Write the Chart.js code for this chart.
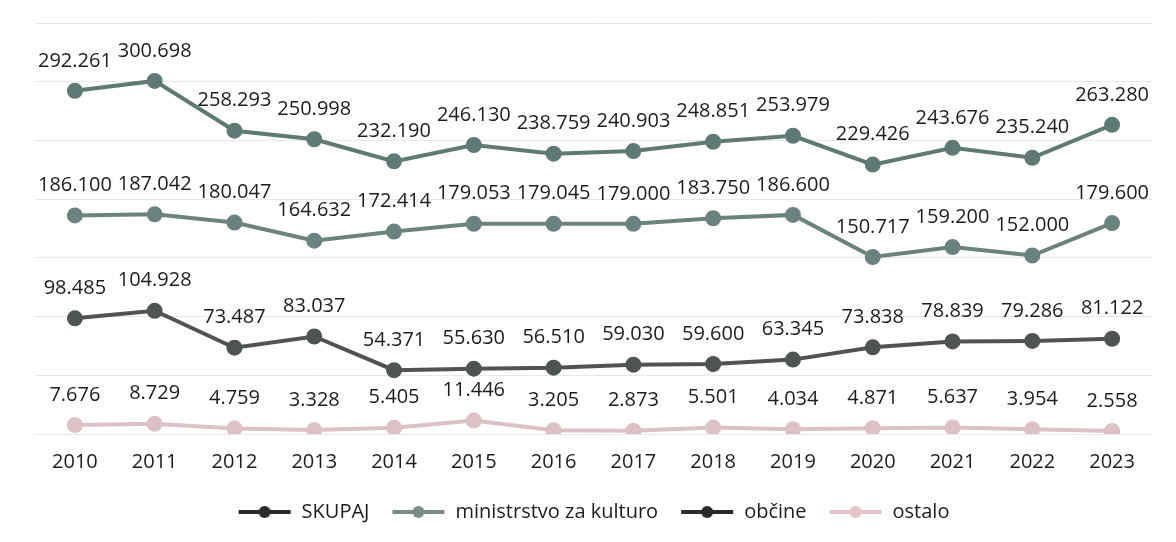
<!DOCTYPE html>
<html>
<head>
<meta charset="utf-8">
<script src="https://cdn.jsdelivr.net/npm/chart.js@4"></script>
<style>
  html, body { margin:0; padding:0; background:#fff; }
  #wrap { width:1176px; height:542px; }
</style>
</head>
<body>
<div id="wrap"><canvas id="lineChart"></canvas></div>
<script>
const years = ['2010','2011','2012','2013','2014','2015','2016','2017','2018','2019','2020','2021','2022','2023'];
const skupaj = [292261,300698,258293,250998,232190,246130,238759,240903,248851,253979,229426,243676,235240,263280];
const ministrstvo = [186100,187042,180047,164632,172414,179053,179045,179000,183750,186600,150717,159200,152000,179600];
const obcine = [98485,104928,73487,83037,54371,55630,56510,59030,59600,63345,73838,78839,79286,81122];
const ostalo = [7676,8729,4759,3328,5405,11446,3205,2873,5501,4034,4871,5637,3954,2558];

const FONT = "'Open Sans', sans-serif";

// 292261 -> "292.261"
function fmt(v) {
    return String(v).replace(/\B(?=(\d{3})+(?!\d))/g, '.');
}

// little line-with-dot picture for the legend
function legendIcon(color) {
    const c = document.createElement('canvas');
    c.width = 54; c.height = 14;
    const g = c.getContext('2d');
    g.strokeStyle = color; g.lineWidth = 4;
    g.beginPath(); g.moveTo(1, 7); g.lineTo(53, 7); g.stroke();
    g.fillStyle = color;
    g.beginPath(); g.arc(27, 7, 6, 0, Math.PI*2); g.fill();
    return c;
}

const valueLabels = {
    id: 'valueLabels',
    afterDatasetsDraw(chart) {
        const ctx = chart.ctx;
        ctx.save();
        ctx.font = '20px ' + FONT;
        ctx.fillStyle = '#1c1c1c';
        ctx.textAlign = 'center';
        ctx.textBaseline = 'middle';
        chart.data.datasets.forEach((ds, i) => {
            chart.getDatasetMeta(i).data.forEach((p, j) => {
                ctx.fillText(fmt(ds.data[j]), p.x, p.y - 30);
            });
        });
        ctx.restore();
    }
};

function series(label, data, color) {
    return {
        label, data,
        borderColor: color, backgroundColor: color,
        borderWidth: 4, pointRadius: 6, pointHoverRadius: 6,
        pointBackgroundColor: color, pointBorderColor: color,
        tension: 0
    };
}

const legendColors = ['#2a2a2a', '#7d8b88', '#2a2a2a', '#e2c3c8'];

const ctx = document.getElementById('lineChart').getContext('2d');
const lineChart = new Chart(ctx, {
    type: 'line',
    data: {
        labels: years,
        datasets: [
            series('SKUPAJ', skupaj, '#5f7975'),
            series('ministrstvo za kulturo', ministrstvo, '#6b837e'),
            series('občine', obcine, '#4f5453'),
            series('ostalo', ostalo, '#dcc1c5')
        ]
    },
    options: {
        responsive: true,
        maintainAspectRatio: false,
        animation: false,
        layout: { padding: { left: 35, right: 24, top: 23, bottom: 10 } },
        plugins: {
            tooltip: { enabled: false },
            legend: {
                position: 'bottom',
                labels: {
                    usePointStyle: true,
                    pointStyleWidth: 54,
                    padding: 22,
                    color: '#1c1c1c',
                    font: { family: FONT, size: 20 },
                    generateLabels(chart) {
                        return chart.data.datasets.map((ds, i) => ({
                            text: ds.label,
                            pointStyle: legendIcon(legendColors[i]),
                            fillStyle: legendColors[i],
                            strokeStyle: legendColors[i],
                            lineWidth: 0,
                            fontColor: '#1c1c1c',
                            datasetIndex: i
                        }));
                    }
                }
            }
        },
        scales: {
            x: {
                offset: true,
                grid: { display: false, drawTicks: false },
                border: { display: false },
                ticks: { color: '#1c1c1c', padding: 16, font: { family: FONT, size: 20 } },
                afterFit(scale) { scale.height -= 10; }
            },
            y: {
                min: 0, max: 350000,
                ticks: { display: false, stepSize: 50000 },
                border: { display: false },
                grid: { color: '#e8e8e8', lineWidth: 1, drawTicks: false }
            }
        }
    },
    plugins: [valueLabels]
});
</script>
</body>
</html>
